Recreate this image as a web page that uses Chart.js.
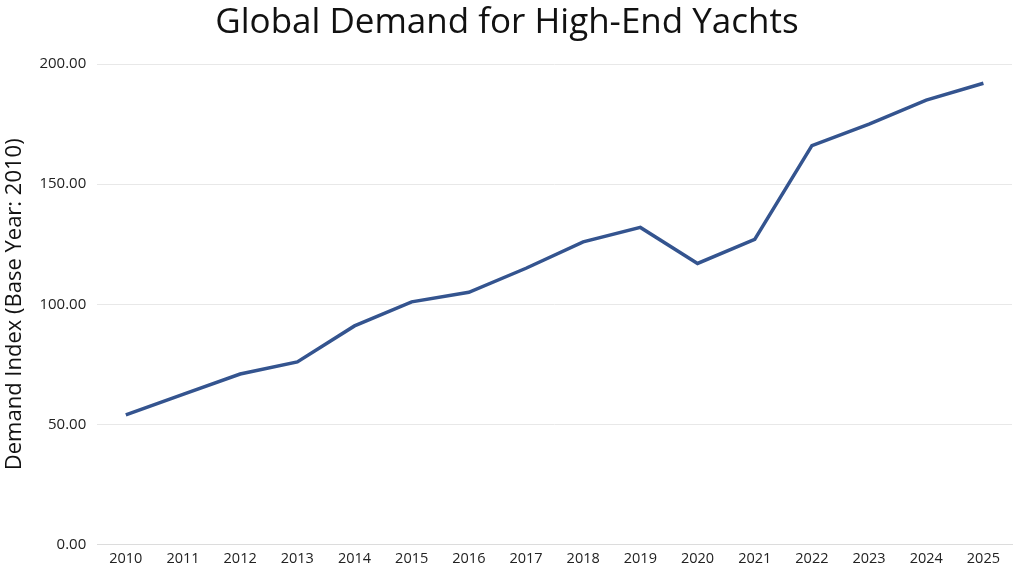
<!DOCTYPE html>
<html>
<head>
<meta charset="utf-8">
<script src="https://cdn.jsdelivr.net/npm/chart.js@4/dist/chart.umd.min.js"></script>
<style>
html,body{margin:0;padding:0;background:#fff;}
#wrap{width:1024px;height:576px;position:relative;}
</style>
</head>
<body>
<div id="wrap"><canvas id="c" width="1024" height="576"></canvas></div>
<script>
const years = ["2010","2011","2012","2013","2014","2015","2016","2017","2018","2019","2020","2021","2022","2023","2024","2025"];
const demandIndex = [54, 62.5, 71, 76, 91, 101, 105, 115, 126, 132, 117, 127, 166, 175, 185, 192];
const yTicks = [0, 50, 100, 150, 200];
const titleText = "Global Demand for High-End Yachts";
const yTitle = "Demand Index (Base Year: 2010)";

const FONT = "'Open Sans', 'Noto Sans', sans-serif";
new Chart(document.getElementById('c'), {
  type: 'line',
  data: {
    labels: years,
    datasets: [{
      data: demandIndex,
      borderColor: '#34548f',
      borderWidth: 3.5,
      pointRadius: 0,
      tension: 0,
      fill: false
    }]
  },
  options: {
    responsive: false,
    animation: false,
    layout: {padding: {left: 2, right: 12, top: 2, bottom: 2}},
    plugins: {
      legend: {display: false},
      tooltip: {enabled: false},
      title: {
        display: true,
        text: titleText,
        color: '#111',
        font: {family: FONT, size: 35, weight: 'normal'},
        padding: {top: 0, bottom: 20}
      }
    },
    scales: {
      x: {
        offset: true,
        grid: {display: false, drawTicks: false},
        border: {display: true, color: '#dcdcdc', width: 1},
        ticks: {color: '#222', font: {family: FONT, size: 14.5}, padding: 6}
      },
      y: {
        min: 0, max: 200,
        afterBuildTicks: (s) => { s.ticks = yTicks.map(v => ({value: v})); },
        grid: {color: '#e8e8e8', drawTicks: false},
        border: {display: false},
        ticks: {color: '#222', font: {family: FONT, size: 15}, padding: 11,
          callback: (v) => Number(v).toFixed(2)},
        title: {display: true, text: yTitle, color: '#111',
          font: {family: FONT, size: 22}, padding: {top: 0, bottom: 0}}
      }
    }
  }
});
</script>
</body>
</html>
